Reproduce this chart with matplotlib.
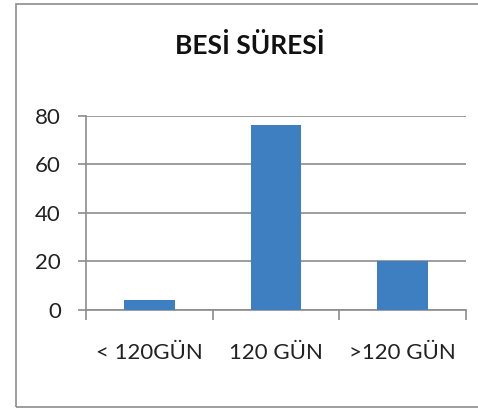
import matplotlib.pyplot as plt
from matplotlib.patches import Rectangle

# data
categories = ['< 120GÜN', '120 GÜN', '>120 GÜN']
values = [4, 76, 20]
y_ticks = [0, 20, 40, 60, 80]

plt.rcParams['font.family'] = ['Lato', 'DejaVu Sans']

fig = plt.figure(figsize=(4.78, 4.12), dpi=100)

# outer chart border (right side runs off the picture)
fig.patches.append(Rectangle((15.5 / 478, 1 - 407 / 412), 1.0, (407 - 3.5) / 412,
                             transform=fig.transFigure, fill=False,
                             edgecolor='#8c8c8c', linewidth=1.2, clip_on=False))

ax = fig.add_axes([86 / 478, 1 - 310 / 412, (466 - 86) / 478, (310 - 115.7) / 412])

x = range(len(categories))
ax.bar(x, values, width=0.4, color='#3d7fc0', zorder=3)

ax.set_xlim(-0.5, len(categories) - 0.5)
ax.set_ylim(0, 80)
ax.set_yticks(y_ticks)
ax.set_yticklabels([str(v) for v in y_ticks], fontsize=16, color='#222222')
ax.set_xticks(list(x))
ax.set_xticklabels(categories, fontsize=16, color='#222222')
ax.tick_params(axis='x', length=0, pad=24)
ax.tick_params(axis='y', length=6, width=1.2, color='#8c8c8c', pad=12)

# category boundary ticks on the x axis
ax.set_xticks([-0.5, 0.5, 1.5, 2.5], minor=True)
ax.tick_params(axis='x', which='minor', length=7, width=1.2, color='#8c8c8c')

ax.grid(axis='y', color='#8c8c8c', linewidth=1.2, zorder=0)
for s in ['top', 'right']:
    ax.spines[s].set_visible(False)
for s in ['left', 'bottom']:
    ax.spines[s].set_color('#8c8c8c')
    ax.spines[s].set_linewidth(1.2)

fig.text(250 / 478, 1 - 45 / 412, 'BESİ SÜRESİ', ha='center', va='center',
         fontsize=19, fontweight='bold', color='#111111')

fig.savefig('out.png', dpi=100)
